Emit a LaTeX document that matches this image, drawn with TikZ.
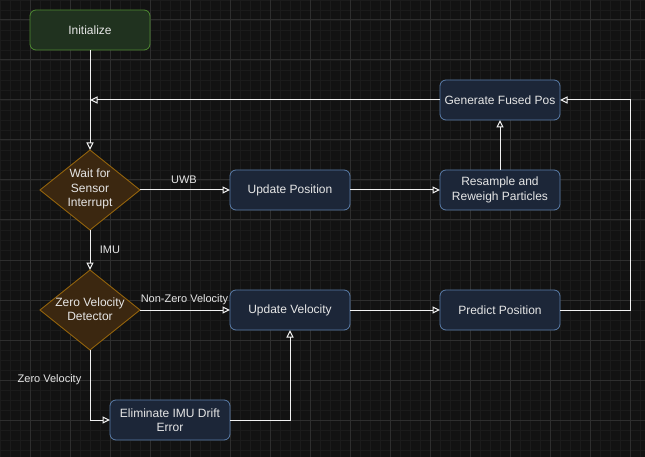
\documentclass[tikz,border=0pt]{standalone}
\usepackage{fontspec}
\setmainfont{Liberation Sans}
\usetikzlibrary{arrows.meta}
\definecolor{bg}{HTML}{121212}
\definecolor{gridminor}{HTML}{1B1B1B}
\definecolor{gridmajor}{HTML}{2E2E2E}
\definecolor{boxfill}{HTML}{1C2638}
\definecolor{boxline}{HTML}{5A7DAA}
\definecolor{grfill}{HTML}{20321F}
\definecolor{grline}{HTML}{4E8A32}
\definecolor{decfill}{HTML}{3B2710}
\definecolor{decline}{HTML}{9A680C}
\definecolor{txt}{HTML}{E6E6E6}
\definecolor{edge}{HTML}{F2F2F2}
\begin{document}
\begin{tikzpicture}[x=1pt,y=-1pt,
  box/.style={draw=boxline, fill=boxfill, rounded corners=6pt, line width=0.8pt,
    minimum width=120pt, minimum height=40pt, inner sep=0pt, outer sep=0pt,
    text=txt, align=center, font=\fontsize{12pt}{14.5pt}\selectfont},
  startbox/.style={box, draw=grline, fill=grfill},
  decframe/.style={minimum width=100pt, minimum height=80pt, inner sep=0pt, outer sep=0pt},
  decshape/.style={draw=decline, fill=decfill, line width=0.8pt, line join=miter},
  dectext/.style={text=txt, align=center, font=\fontsize{12pt}{14.5pt}\selectfont, inner sep=0pt},
  conn/.style={draw=edge, line width=1pt, -{Triangle[open, length=7.5pt, width=7pt]}},
  plain/.style={draw=edge, line width=1pt},
  lbl/.style={text=txt, font=\fontsize{11pt}{13pt}\selectfont, inner sep=0pt}
]
\fill[bg] (0,0) rectangle (645,457);
\useasboundingbox (0,0) rectangle (645,457);
\foreach \x in {0,10,...,640} \draw[gridminor, line width=0.8pt] (\x,0) -- (\x,457);
\foreach \y in {0,10,...,450} \draw[gridminor, line width=0.8pt] (0,\y) -- (645,\y);
\foreach \x in {30,70,...,630} \draw[gridmajor, line width=1pt] (\x,0) -- (\x,457);
\foreach \y in {20,60,...,420} \draw[gridmajor, line width=1pt] (0,\y) -- (645,\y);

% nodes
\node[startbox] (init) at (90,30) {Initialize};
\node[decframe] (wait) at (90,190) {};
\draw[decshape] (wait.north) -- (wait.east) -- (wait.south) -- (wait.west) -- cycle;
\node[dectext] (waittxt) at (90,189) {Wait for\\Sensor\\Interrupt};
\node[decframe] (zvd) at (90,310) {};
\draw[decshape] (zvd.north) -- (zvd.east) -- (zvd.south) -- (zvd.west) -- cycle;
\node[dectext] (zvdtxt) at (90,309) {Zero Velocity\\Detector};
\node[box] (upos) at (290,190) {Update Position};
\node[box] (resamp) at (500,190) {Resample and\\Reweigh Particles};
\node[box] (fused) at (500,100) {Generate Fused Pos};
\node[box] (uvel) at (290,310) {Update Velocity};
\node[box] (pred) at (500,310) {Predict Position};
\node[box] (elim) at (170,420) {Eliminate IMU Drift\\Error};

\coordinate (j) at (90,100);
\coordinate (rc1) at (630,310);
\coordinate (rc2) at (630,100);
\coordinate (zc) at (90,420);
\coordinate (ec) at (290,420);

% connectors
\draw[conn] (init.south) -- (wait.north);
\draw[conn] (fused.west) -- (j);
\draw[conn] (wait.east) -- (upos.west);
\draw[conn] (upos.east) -- (resamp.west);
\draw[conn] (resamp.north) -- (fused.south);
\draw[conn] (pred.east) -- (rc1) -- (rc2) -- (fused.east);
\draw[conn] (wait.south) -- (zvd.north);
\draw[conn] (zvd.east) -- (uvel.west);
\draw[conn] (zvd.south) -- (zc) -- (elim.west);
\draw[conn] (elim.east) -- (ec) -- (uvel.south);
\draw[conn] (uvel.east) -- (pred.west);

% labels
\node[lbl] (luwb) at (184,180) {UWB};
\node[lbl] (limu) at (110,250) {IMU};
\node[lbl] (lnz) at (184.5,300) {Non-Zero Velocity};
\node[lbl] (lz) at (49.5,380) {Zero Velocity};
\end{tikzpicture}
\end{document}
